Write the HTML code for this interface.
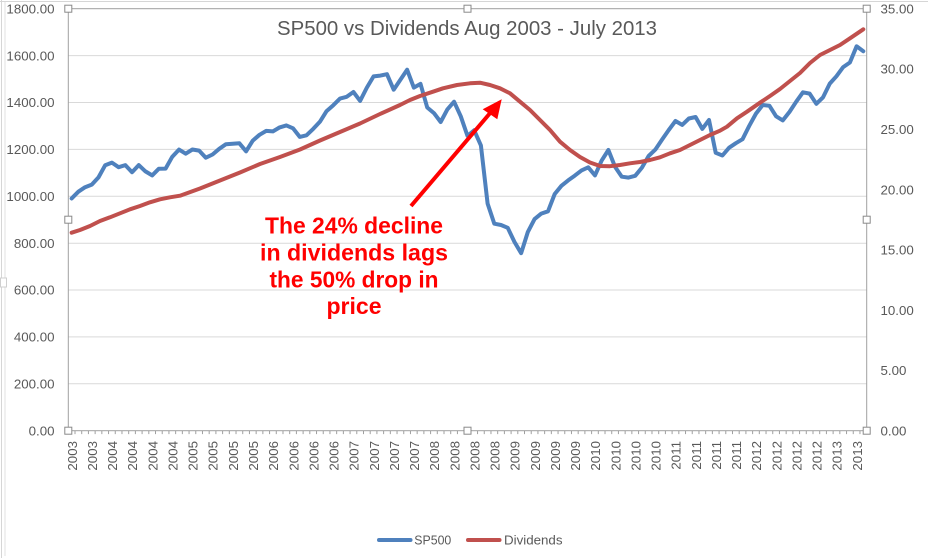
<!DOCTYPE html>
<html>
<head>
<meta charset="utf-8">
<style>
  html,body{margin:0;padding:0;background:#fff;}
  body{width:928px;height:558px;overflow:hidden;}
  svg{display:block;}
  .ax{font-family:"Liberation Sans",Arial,sans-serif;font-size:13.3px;fill:#595959;}
</style>
</head>
<body>
<svg width="928" height="558" viewBox="0 0 928 558" xmlns="http://www.w3.org/2000/svg">
  <rect x="0" y="0" width="928" height="558" fill="#fff"/>
  <!-- outer chart / sheet edges -->
  <line x1="0" y1="1.5" x2="928" y2="1.5" stroke="#d6d6d6" stroke-width="1"/>
  <line x1="1.5" y1="0" x2="1.5" y2="558" stroke="#d6d6d6" stroke-width="1"/>
  <line x1="5" y1="2" x2="5" y2="556" stroke="#e0e0e0" stroke-width="1"/>
  <rect x="0.5" y="278" width="6" height="9" fill="#fff" stroke="#cfcfcf" stroke-width="1"/>

  <!-- gridlines -->
  <g stroke="#D9D9D9" stroke-width="1">
    <line x1="68.3" y1="55.6" x2="866.7" y2="55.6"/>
    <line x1="68.3" y1="102.5" x2="866.7" y2="102.5"/>
    <line x1="68.3" y1="149.4" x2="866.7" y2="149.4"/>
    <line x1="68.3" y1="196.3" x2="866.7" y2="196.3"/>
    <line x1="68.3" y1="243.2" x2="866.7" y2="243.2"/>
    <line x1="68.3" y1="290.0" x2="866.7" y2="290.0"/>
    <line x1="68.3" y1="336.9" x2="866.7" y2="336.9"/>
    <line x1="68.3" y1="383.8" x2="866.7" y2="383.8"/>
  </g>

  <!-- plot area border / axes -->
  <rect x="68.3" y="8.7" width="798.4" height="422" fill="none" stroke="#A0A0A0" stroke-width="1"/>
  <!-- x ticks -->
  <line x1="67.8" y1="432.4" x2="867.3" y2="432.4" stroke="#A0A0A0" stroke-width="3.4" stroke-dasharray="1 5.709"/>

  <!-- left axis labels -->
  <g class="ax" text-anchor="end">
    <text x="54.5" y="13.4">1800.00</text>
    <text x="54.5" y="60.3">1600.00</text>
    <text x="54.5" y="107.2">1400.00</text>
    <text x="54.5" y="154.1">1200.00</text>
    <text x="54.5" y="201.0">1000.00</text>
    <text x="54.5" y="247.9">800.00</text>
    <text x="54.5" y="294.7">600.00</text>
    <text x="54.5" y="341.6">400.00</text>
    <text x="54.5" y="388.5">200.00</text>
    <text x="54.5" y="435.4">0.00</text>
  </g>
  <!-- right axis labels -->
  <g class="ax" text-anchor="start">
    <text x="880.5" y="13.4">35.00</text>
    <text x="880.5" y="73.7">30.00</text>
    <text x="880.5" y="134.0">25.00</text>
    <text x="880.5" y="194.3">20.00</text>
    <text x="880.5" y="254.6">15.00</text>
    <text x="880.5" y="314.8">10.00</text>
    <text x="880.5" y="375.1">5.00</text>
    <text x="880.5" y="435.4">0.00</text>
  </g>

  <!-- x axis labels -->
  <g class="ax" text-anchor="end">
    <text transform="translate(76.85,441) rotate(-90)">2003</text>
    <text transform="translate(96.98,441) rotate(-90)">2003</text>
    <text transform="translate(117.1,441) rotate(-90)">2004</text>
    <text transform="translate(137.23,441) rotate(-90)">2004</text>
    <text transform="translate(157.36,441) rotate(-90)">2004</text>
    <text transform="translate(177.49,441) rotate(-90)">2004</text>
    <text transform="translate(197.61,441) rotate(-90)">2005</text>
    <text transform="translate(217.74,441) rotate(-90)">2005</text>
    <text transform="translate(237.87,441) rotate(-90)">2005</text>
    <text transform="translate(258.0,441) rotate(-90)">2005</text>
    <text transform="translate(278.12,441) rotate(-90)">2006</text>
    <text transform="translate(298.25,441) rotate(-90)">2006</text>
    <text transform="translate(318.37,441) rotate(-90)">2006</text>
    <text transform="translate(338.5,441) rotate(-90)">2006</text>
    <text transform="translate(358.63,441) rotate(-90)">2007</text>
    <text transform="translate(378.76,441) rotate(-90)">2007</text>
    <text transform="translate(398.88,441) rotate(-90)">2007</text>
    <text transform="translate(419.01,441) rotate(-90)">2007</text>
    <text transform="translate(439.14,441) rotate(-90)">2008</text>
    <text transform="translate(459.26,441) rotate(-90)">2008</text>
    <text transform="translate(479.39,441) rotate(-90)">2008</text>
    <text transform="translate(499.52,441) rotate(-90)">2008</text>
    <text transform="translate(519.64,441) rotate(-90)">2009</text>
    <text transform="translate(539.77,441) rotate(-90)">2009</text>
    <text transform="translate(559.9,441) rotate(-90)">2009</text>
    <text transform="translate(580.03,441) rotate(-90)">2009</text>
    <text transform="translate(600.15,441) rotate(-90)">2010</text>
    <text transform="translate(620.28,441) rotate(-90)">2010</text>
    <text transform="translate(640.41,441) rotate(-90)">2010</text>
    <text transform="translate(660.53,441) rotate(-90)">2010</text>
    <text transform="translate(680.66,441) rotate(-90)">2011</text>
    <text transform="translate(700.79,441) rotate(-90)">2011</text>
    <text transform="translate(720.91,441) rotate(-90)">2011</text>
    <text transform="translate(741.04,441) rotate(-90)">2011</text>
    <text transform="translate(761.17,441) rotate(-90)">2012</text>
    <text transform="translate(781.3,441) rotate(-90)">2012</text>
    <text transform="translate(801.42,441) rotate(-90)">2012</text>
    <text transform="translate(821.55,441) rotate(-90)">2012</text>
    <text transform="translate(841.68,441) rotate(-90)">2013</text>
    <text transform="translate(861.8,441) rotate(-90)">2013</text>
  </g>

  <!-- SP500 series -->
  <polyline fill="none" stroke="#4F81BD" stroke-width="4" stroke-linejoin="round" stroke-linecap="round"
    points="71.65,198.45 78.36,191.7 85.07,187.2 91.78,184.6 98.49,177.4 105.2,165.2 111.9,162.6 118.61,167.2 125.32,165.1 132.03,172.2 138.74,165.1 145.45,171.4 152.16,175.4 158.87,168.7 165.58,168.6 172.29,156.7 179.0,149.6 185.7,153.7 192.41,149.5 199.12,150.6 205.83,157.7 212.54,154.5 219.25,148.8 225.96,144.2 232.67,143.7 239.38,143.3 246.09,151.3 252.79,140.6 259.5,134.8 266.21,130.9 272.92,131.4 279.63,127.4 286.34,125.4 293.05,128.3 299.76,136.9 306.47,135.3 313.17,128.9 319.88,121.8 326.59,111.1 333.3,105.2 340.01,98.6 346.72,96.8 353.43,92.0 360.14,100.9 366.85,87.6 373.56,76.4 380.26,75.6 386.97,74.2 393.68,89.7 400.39,79.7 407.1,69.7 413.81,87.6 420.52,83.9 427.23,107.5 433.94,113.1 440.65,122.0 447.35,109.4 454.06,101.7 460.77,116.3 467.48,135.9 474.19,130.3 480.9,145.4 487.61,203.6 494.32,223.7 501.03,225.0 507.74,227.8 514.44,241.9 521.15,253.2 527.86,231.9 534.57,219.1 541.28,213.6 547.99,211.3 554.7,194.0 561.41,185.8 568.12,180.4 574.83,175.6 581.53,170.4 588.24,167.3 594.95,175.4 601.66,160.6 608.37,150.0 615.08,166.9 621.79,176.7 628.5,177.6 635.21,175.8 641.92,167.6 648.62,156.0 655.33,149.6 662.04,139.6 668.75,130.0 675.46,121.0 682.17,124.9 688.88,118.5 695.59,117.0 702.3,128.9 709.01,120.0 715.71,152.8 722.42,155.5 729.13,147.7 735.84,143.2 742.55,139.2 749.26,125.8 755.97,113.6 762.68,105.0 769.39,105.7 776.1,116.3 782.8,120.4 789.51,111.9 796.22,101.7 802.93,92.3 809.64,93.6 816.35,103.8 823.06,97.3 829.77,83.6 836.48,76.2 843.19,67.1 849.89,62.5 856.6,46.3 863.31,51.2"/>

  <!-- Dividends series -->
  <polyline fill="none" stroke="#C0504D" stroke-width="4" stroke-linejoin="round" stroke-linecap="round"
    points="71.65,232.7 80,230 90,226 100,221 110,217.3 120,213.3 130,209.3 140,206 150,202.3 160,199.3 170,197.3 180,195.7 200,188.5 220,180.5 240,172.5 260,164 280,157 300,149.5 320,140.5 340,132 360,123.5 380,114 400,105 410,100 420,96 433,91.7 443,88.3 457,85 470,83.3 480,82.7 490,85 500,88.3 510,93.3 520,101.7 530,110 540,120 550,130 560,141.7 570,150 580,157 590,162.5 600,166 610,166.2 620,165 630,163.3 640,162 650,160 660,157.3 670,153.3 680,150 690,145 700,140 710,135 720,130.7 727,126.7 737,118.3 747,111.7 760,102.7 770,96 780,89 790,81 800,73 810,63 820,55 830,50 840,45 850,38.3 863.3,29.3"/>

  <!-- selection handles -->
  <g fill="#fff" stroke="#8a8a8a" stroke-width="1">
    <rect x="64.8" y="5.2" width="7" height="7"/>
    <rect x="464" y="5.2" width="7" height="7"/>
    <rect x="863.2" y="5.2" width="7" height="7"/>
    <rect x="64.8" y="216.2" width="7" height="7"/>
    <rect x="863.2" y="216.2" width="7" height="7"/>
    <rect x="64.8" y="427.2" width="7" height="7"/>
    <rect x="464" y="427.2" width="7" height="7"/>
    <rect x="863.2" y="427.2" width="7" height="7"/>
  </g>

  <!-- title -->
  <text x="467" y="35" text-anchor="middle" textLength="380" lengthAdjust="spacingAndGlyphs"
        font-family="'Liberation Sans', Arial, sans-serif" font-size="20.3" fill="#595959">SP500 vs Dividends Aug 2003 - July 2013</text>

  <!-- annotation -->
  <g font-family="'Liberation Sans', Arial, sans-serif" font-size="23" font-weight="bold" fill="#FF0000" text-anchor="middle">
    <text x="354" y="233.5" textLength="178" lengthAdjust="spacingAndGlyphs">The 24% decline</text>
    <text x="354" y="260.7" textLength="188" lengthAdjust="spacingAndGlyphs">in dividends lags</text>
    <text x="354" y="287.7" textLength="169" lengthAdjust="spacingAndGlyphs">the 50% drop in</text>
    <text x="354" y="314" textLength="55" lengthAdjust="spacingAndGlyphs">price</text>
  </g>

  <!-- arrow -->
  <line x1="411" y1="206" x2="491" y2="112" stroke="#FF0000" stroke-width="4"/>
  <polygon points="501.7,99.3 482.7,109.3 497.3,119.3" fill="#FF0000"/>

  <!-- legend -->
  <line x1="379" y1="540" x2="410.5" y2="540" stroke="#4F81BD" stroke-width="4" stroke-linecap="round"/>
  <text x="414.3" y="544.7" textLength="37" lengthAdjust="spacingAndGlyphs" class="ax">SP500</text>
  <line x1="468" y1="540" x2="499.5" y2="540" stroke="#C0504D" stroke-width="4" stroke-linecap="round"/>
  <text x="504" y="544.7" textLength="58.5" lengthAdjust="spacingAndGlyphs" class="ax">Dividends</text>
</svg>
</body>
</html>
